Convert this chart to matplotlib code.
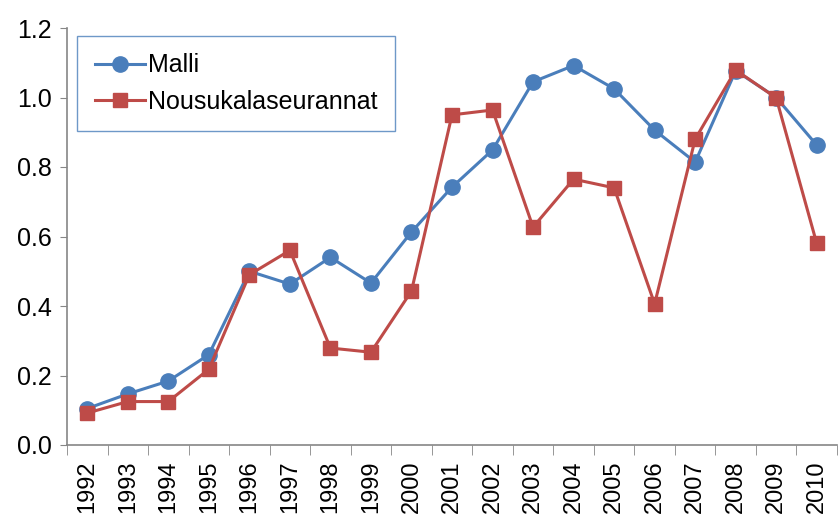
import matplotlib
matplotlib.use("Agg")
import matplotlib.pyplot as plt
import numpy as np

years = [str(y) for y in range(1992, 2011)]
malli = [0.105, 0.147, 0.184, 0.26, 0.50, 0.463, 0.54, 0.466, 0.613, 0.742,
         0.849, 1.045, 1.092, 1.025, 0.906, 0.814, 1.077, 1.0, 0.863]
nousu = [0.092, 0.125, 0.125, 0.218, 0.49, 0.56, 0.279, 0.267, 0.443, 0.95,
         0.964, 0.627, 0.765, 0.74, 0.406, 0.88, 1.079, 0.999, 0.58]
yticks = [0.0, 0.2, 0.4, 0.6, 0.8, 1.0, 1.2]

plt.rcParams['font.family'] = ['Liberation Sans', 'DejaVu Sans']

fig = plt.figure(figsize=(8.38, 5.15), dpi=100)
ax = fig.add_axes([67/838, 1-445/515, 770/838, 417/515])

x = np.arange(len(years))
blue = '#4A7EBB'
red = '#BE4B48'
ax.plot(x, malli, color=blue, lw=2.2, marker='o', ms=11, label='Malli', zorder=3)
ax.plot(x, nousu, color=red, lw=2.2, marker='s', ms=9.5, label='Nousukalaseurannat', zorder=4)

ax.set_xlim(-0.5, len(years)-0.5)
ax.set_ylim(0, 1.2)
ax.set_yticks(yticks)
ax.set_yticklabels([f"{v:.1f}" for v in yticks], fontsize=18)
ax.set_xticks(x)
ax.set_xticklabels(years, rotation=90, fontsize=17)
ax.set_xticks(np.arange(-0.5, len(years), 1.0), minor=True)
ax.tick_params(axis='x', which='major', length=0, pad=11)
ax.tick_params(axis='x', which='minor', length=7, color='#868686', direction='out')
ax.tick_params(axis='y', length=5, color='#868686', direction='out', pad=6)

for s in ['top', 'right']:
    ax.spines[s].set_visible(False)
for s in ['left', 'bottom']:
    ax.spines[s].set_color('#868686')
    ax.spines[s].set_linewidth(1.2)

leg = ax.legend(loc='upper left', bbox_to_anchor=(0.013, 0.981), borderaxespad=0,
                fontsize=18, fancybox=False, edgecolor=blue, frameon=True,
                handlelength=2.0, handletextpad=0.15, labelspacing=0.5,
                borderpad=0.7)
leg.get_frame().set_linewidth(1.0)

fig.savefig('out.png', dpi=100)
